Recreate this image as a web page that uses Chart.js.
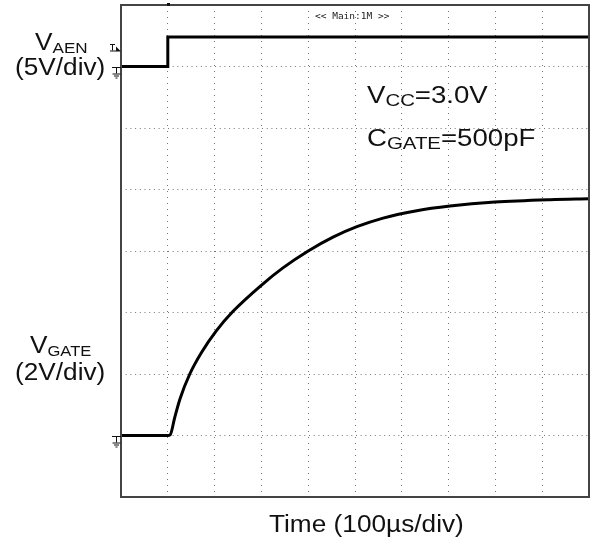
<!DOCTYPE html>
<html>
<head>
<meta charset="utf-8">
<script src="https://cdn.jsdelivr.net/npm/chart.js@4.4.1/dist/chart.umd.min.js"></script>
<style>
body { margin: 0; background: #fff; }
#wrap { width: 590px; height: 545px; }
</style>
</head>
<body>
<div id="wrap"><canvas id="scope" width="590" height="545"></canvas></div>
<script>
// time in µs (100µs/div), levels in volts
const aenTime = [0, 100, 100, 1000]
const aenVolts = [0, 0, 2.4, 2.4]
const gateTime = [0, 100, 105, 115, 126, 147, 172, 204, 239, 301, 346, 400, 453, 504, 560, 632, 703, 799, 917, 1000]
const gateVolts = [0, 0, 0.02, 0.6, 1.19, 2.0, 2.7, 3.41, 4.03, 4.9, 5.45, 6.0, 6.45, 6.79, 7.07, 7.31, 7.46, 7.59, 7.67, 7.7]

// screen divisions: AEN ground sits on div 7 at 5V/div, GATE ground on div 1 at 2V/div
const aenPoints = aenTime.map((t, i) => ({ x: t, y: 7 + aenVolts[i] / 5 }))
const gatePoints = gateTime.map((t, i) => ({ x: t, y: 1 + gateVolts[i] / 2 }))

const FONT = '"Liberation Sans", Arial, sans-serif'

function drawRich(ctx, x, y, parts, stretch = 1.14) {
    ctx.save()
    ctx.translate(x, y)
    ctx.scale(stretch, 1)
    ctx.fillStyle = "#111"
    ctx.textBaseline = "alphabetic"
    let cx = 0
    parts.forEach(([txt, size, dy]) => {
        ctx.font = size + "px " + FONT
        ctx.fillText(txt, cx, dy)
        cx += ctx.measureText(txt).width
    })
    ctx.restore()
}

function line(ctx, x1, y1, x2, y2) {
    ctx.beginPath()
    ctx.moveTo(x1, y1)
    ctx.lineTo(x2, y2)
    ctx.stroke()
}

function groundMark(ctx, y) {
    line(ctx, 112, y, 121, y)
    line(ctx, 116.5, y, 116.5, y + 6)
    line(ctx, 112.5, y + 6.5, 120.5, y + 6.5)
    line(ctx, 114, y + 8.5, 119, y + 8.5)
    line(ctx, 115.5, y + 10.5, 117.5, y + 10.5)
}

const scopeDecor = {
    id: "scopeDecor",
    afterDraw(chart) {
        const ctx = chart.ctx
        const area = chart.chartArea
        const ys = chart.scales.y
        const xs = chart.scales.x

        ctx.save()
        ctx.strokeStyle = "#444"
        ctx.lineWidth = 2
        ctx.strokeRect(area.left, area.top, area.right - area.left, area.bottom - area.top)

        // trigger position dot on top edge
        ctx.fillStyle = "#111"
        ctx.fillRect(Math.round(xs.getPixelForValue(100)) - 1, area.top - 2, 3, 3)

        ctx.strokeStyle = "#111"
        ctx.lineWidth = 1
        groundMark(ctx, Math.round(ys.getPixelForValue(7)) + 0.5)
        groundMark(ctx, Math.round(ys.getPixelForValue(1)) + 0.5)

        // trigger level marker
        const ty = Math.round(ys.getPixelForValue(7.3)) + 0.5
        line(ctx, 110, ty - 4, 115, ty - 4)
        line(ctx, 112.5, ty - 4, 112.5, ty + 2)
        line(ctx, 110, ty + 2.5, 116, ty + 2.5)
        ctx.beginPath()
        ctx.moveTo(116, ty - 2)
        ctx.lineTo(121, ty + 3)
        ctx.lineTo(116, ty + 3)
        ctx.closePath()
        ctx.fill()

        ctx.font = '9.5px "DejaVu Sans Mono", monospace'
        ctx.fillStyle = "#222"
        ctx.fillText("<< Main:1M >>", 315, 19)
        ctx.restore()

        drawRich(ctx, 35, 50, [["V", 23, 0], ["AEN", 15, 3]])
        drawRich(ctx, 15, 75, [["(5V/div)", 23, 0]])
        drawRich(ctx, 30, 353, [["V", 23, 0], ["GATE", 14.5, 3]])
        drawRich(ctx, 15, 380, [["(2V/div)", 23, 0]])
        drawRich(ctx, 367, 103, [["V", 23, 0], ["CC", 17, 3], ["=3.0V", 23, 0]], 1.2)
        drawRich(ctx, 367, 146, [["C", 23, 0], ["GATE", 17, 3], ["=500pF", 23, 0]], 1.2)
        drawRich(ctx, 269, 532, [["Time (100µs/div)", 23, 0]])
    }
}

new Chart(document.getElementById("scope"), {
    type: "scatter",
    data: {
        datasets: [
            {
                label: "VAEN",
                data: aenPoints,
                showLine: true,
                borderColor: "#000",
                borderWidth: 3,
                pointRadius: 0
            },
            {
                label: "VGATE",
                data: gatePoints,
                showLine: true,
                borderColor: "#000",
                borderWidth: 3,
                pointRadius: 0,
                cubicInterpolationMode: "monotone"
            }
        ]
    },
    options: {
        responsive: false,
        animation: false,
        devicePixelRatio: 1,
        layout: { padding: { left: 121, top: 5, right: 1, bottom: 48 } },
        plugins: {
            legend: { display: false },
            tooltip: { enabled: false }
        },
        scales: {
            x: {
                type: "linear",
                min: 0,
                max: 1000,
                ticks: { display: false, stepSize: 100 },
                grid: { color: "#777", lineWidth: 1, drawTicks: false },
                border: { display: false, dash: [1, 5] }
            },
            y: {
                type: "linear",
                min: 0,
                max: 8,
                ticks: { display: false, stepSize: 1 },
                grid: { color: "#777", lineWidth: 1, drawTicks: false },
                border: { display: false, dash: [1, 3.7] }
            }
        }
    },
    plugins: [scopeDecor]
})
</script>
</body>
</html>
